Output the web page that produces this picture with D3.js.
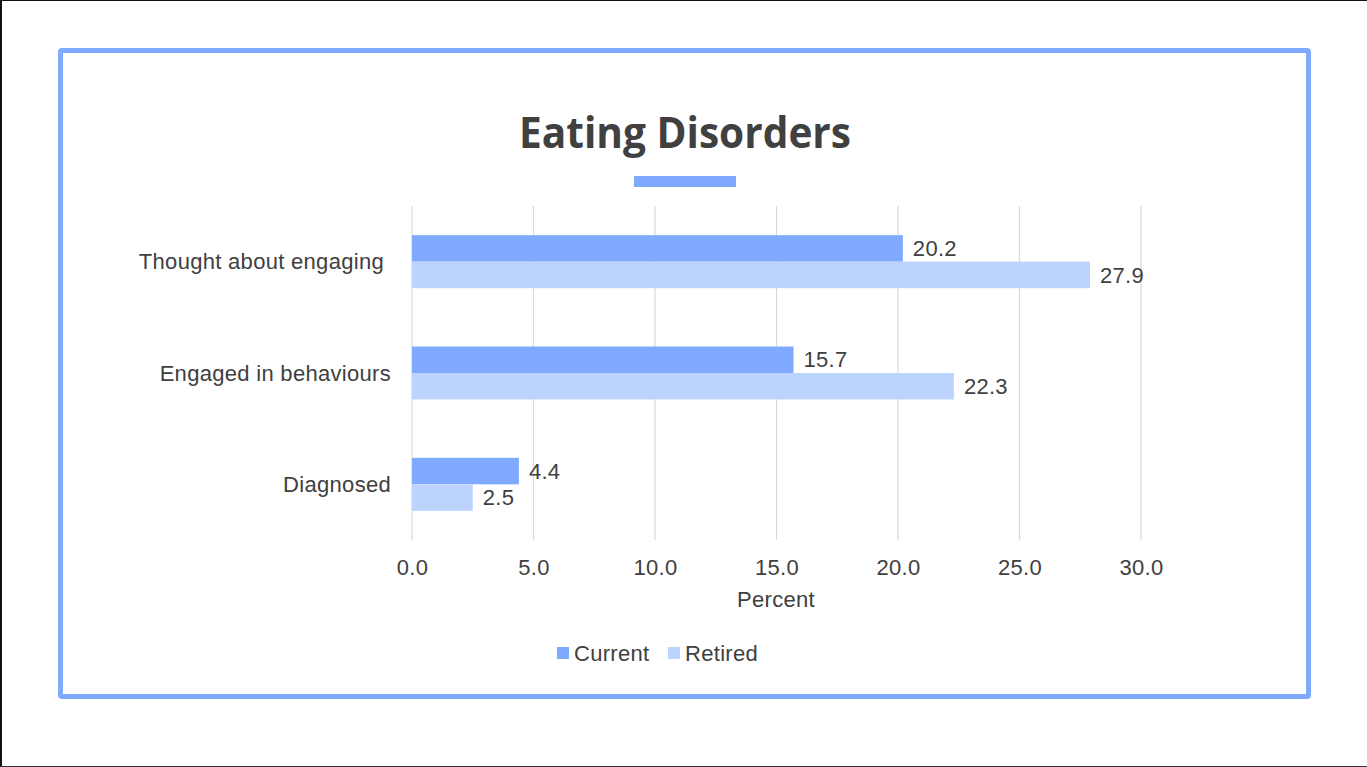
<!DOCTYPE html>
<html>
<head>
<meta charset="utf-8">
<script src="https://cdn.jsdelivr.net/npm/d3@7"></script>
<style>
  html, body { margin: 0; padding: 0; background: #fff; }
  svg { display: block; }
</style>
</head>
<body>
<svg id="chart" width="1367" height="767"></svg>
<script>
// Chart data
const categories = ["Thought about engaging", "Engaged in behaviours", "Diagnosed"];
const seriesNames = ["Current", "Retired"];
const currentValues = [20.2, 15.7, 4.4];
const retiredValues = [27.9, 22.3, 2.5];
const xTicks = [0, 5, 10, 15, 20, 25, 30];

const colors = { Current: "#7faaff", Retired: "#bcd4fd" };
const textColor = "#404040";
const labelFont = "Arial, 'Liberation Sans', Helvetica, sans-serif";
const labelSize = 22;
const labelSpacing = 0.3;

const svg = d3.select("#chart");
const W = 1367, H = 767;

// page frame lines
svg.append("line").attr("x1", 1).attr("x2", 1).attr("y1", 0).attr("y2", H)
  .attr("stroke", "#111").attr("stroke-width", 2);
svg.append("line").attr("x1", 0).attr("x2", W).attr("y1", 0.5).attr("y2", 0.5)
  .attr("stroke", "#111").attr("stroke-width", 1);
svg.append("line").attr("x1", 0).attr("x2", W).attr("y1", 766.5).attr("y2", 766.5)
  .attr("stroke", "#333").attr("stroke-width", 1);

// blue card border
svg.append("rect")
  .attr("x", 60.5).attr("y", 50.5).attr("width", 1248).attr("height", 646)
  .attr("fill", "none").attr("stroke", "#7faaff").attr("stroke-width", 5)
  .attr("rx", 1.5);

// title
svg.append("text")
  .attr("x", 685).attr("y", 148)
  .attr("text-anchor", "middle")
  .attr("font-family", "'Open Sans', 'Noto Sans', sans-serif")
  .attr("font-weight", 700)
  .attr("font-size", 43)
  .attr("textLength", 332)
  .attr("lengthAdjust", "spacingAndGlyphs")
  .attr("fill", textColor)
  .text("Eating Disorders");

// accent bar under the title
svg.append("rect")
  .attr("x", 634).attr("y", 176).attr("width", 102).attr("height", 11)
  .attr("fill", "#7faaff");

// plot area
const plot = { left: 412, right: 1141, top: 206, bottom: 540 };

const x = d3.scaleLinear().domain([0, 30]).range([plot.left, plot.right]);
const y = d3.scaleBand().domain(categories)
  .range([plot.top, plot.bottom])
  .paddingInner(0.524).paddingOuter(0.262);
const ySub = d3.scaleBand().domain(seriesNames).range([0, y.bandwidth()]);

function styleLabel(sel) {
  return sel.attr("font-family", labelFont)
    .attr("font-size", labelSize)
    .attr("letter-spacing", labelSpacing)
    .attr("fill", textColor);
}

// gridlines
svg.append("g").selectAll("line")
  .data(xTicks).join("line")
  .attr("x1", d => x(d)).attr("x2", d => x(d))
  .attr("y1", plot.top).attr("y2", plot.bottom)
  .attr("stroke", "#d9d9d9").attr("stroke-width", 1.2);

// x axis tick labels
const xAxis = d3.axisBottom(x).tickValues(xTicks).tickFormat(d3.format(".1f")).tickSize(0).tickPadding(0);
const gx = svg.append("g").attr("transform", `translate(0,${plot.bottom + 35})`).call(xAxis);
gx.select(".domain").remove();
styleLabel(gx.selectAll("text")).attr("dy", 0);

// x axis title
styleLabel(svg.append("text"))
  .attr("x", (plot.left + plot.right) / 2 - 0.5).attr("y", 607)
  .attr("text-anchor", "middle")
  .text("Percent");

// category labels
const yAxis = d3.axisLeft(y).tickSize(0).tickPadding(0);
const gy = svg.append("g").attr("transform", `translate(${plot.left - 21},0)`).call(yAxis);
gy.select(".domain").remove();
styleLabel(gy.selectAll("text")).attr("dy", "0.35em");
gy.selectAll(".tick").filter(d => d === categories[0])
  .select("text").attr("x", -7);

// bars
const rows = categories.map((c, i) => ({
  category: c,
  values: [
    { series: "Current", value: currentValues[i] },
    { series: "Retired", value: retiredValues[i] }
  ]
}));

const groups = svg.append("g").selectAll("g")
  .data(rows).join("g")
  .attr("transform", d => `translate(0,${y(d.category)})`);

groups.selectAll("rect")
  .data(d => d.values).join("rect")
  .attr("x", x(0))
  .attr("y", d => ySub(d.series))
  .attr("width", d => x(d.value) - x(0))
  .attr("height", ySub.bandwidth())
  .attr("fill", d => colors[d.series]);

styleLabel(groups.selectAll("text")
  .data(d => d.values).join("text"))
  .attr("x", d => x(d.value) + 10)
  .attr("y", d => ySub(d.series) + ySub.bandwidth() / 2)
  .attr("dy", "0.35em")
  .text(d => d3.format(".1f")(d.value));

// legend
const legend = svg.append("g").attr("transform", "translate(557,653)");
const legendItems = [
  { name: "Current", dx: 0 },
  { name: "Retired", dx: 111 }
];
const li = legend.selectAll("g").data(legendItems).join("g")
  .attr("transform", d => `translate(${d.dx},0)`);
li.append("rect")
  .attr("x", 0).attr("y", -6).attr("width", 12).attr("height", 12)
  .attr("fill", d => colors[d.name]);
styleLabel(li.append("text"))
  .attr("x", 17).attr("y", 0).attr("dy", "0.35em")
  .text(d => d.name);
</script>
</body>
</html>
